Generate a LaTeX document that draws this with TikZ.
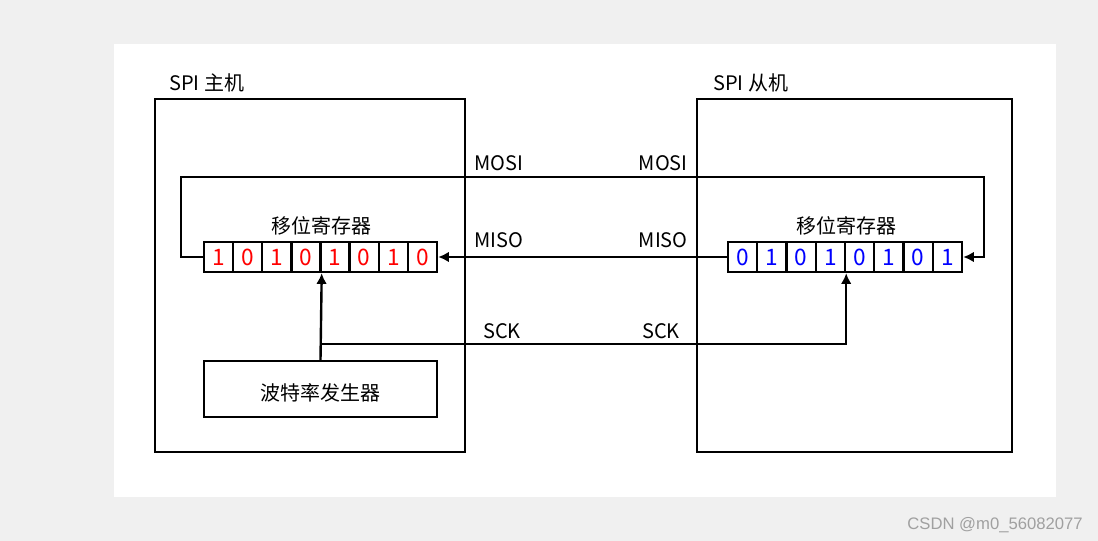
\documentclass[tikz,border=0pt]{standalone}
\usepackage{fontspec}
\setmainfont{Noto Sans CJK SC}
\newfontfamily\wmfont{Liberation Sans}
\usetikzlibrary{arrows.meta}
\definecolor{pagegray}{HTML}{F0F0F0}
\definecolor{bitred}{HTML}{FF0000}
\definecolor{bitblue}{HTML}{0000FF}
\definecolor{wmgray}{HTML}{A0A0A0}
\tikzset{
  unit/.style={draw, line width=1.8pt, inner sep=0pt},
  cell/.style={unit, minimum width=21.85pt, minimum height=22.5pt, font=\fontsize{17}{17}\selectfont},
  lbl/.style={font=\fontsize{15}{15}\selectfont, inner sep=0pt},
  wire/.style={line width=1.8pt},
  arrow/.style={wire, -{Latex[length=8pt,width=8pt]}},
}
\begin{document}
\begin{tikzpicture}[x=0.75pt,y=-0.75pt]
\useasboundingbox (0,0) rectangle (1098,541);
\fill[pagegray] (0,0) rectangle (1098,541);
\fill[white] (114,44) rectangle (1056,497);
% master and slave
\node[unit, minimum width=232.5pt, minimum height=264.75pt] (master) at (310,275.5) {};
\node[unit, minimum width=236.25pt, minimum height=264.75pt] (slave) at (854.5,275.5) {};
\node[lbl, anchor=base west] (mastername) at (169,91) {SPI 主机};
\node[lbl, anchor=base west] (slavename) at (713,91) {SPI 从机};
% shift registers
\foreach \b [count=\i] in {1,0,1,0,1,0,1,0}
  \node[cell, text=bitred] (m\i) at ({204+(\i-0.5)*29.125},257) {\b};
\foreach \b [count=\i] in {0,1,0,1,0,1,0,1}
  \node[cell, text=bitblue, minimum width=21.94pt] (s\i) at ({728+(\i-0.5)*29.25},257) {\b};
\node[lbl, anchor=base, yshift=5.6pt] (mregname) at (m4.north east) {移位寄存器};
\node[lbl, anchor=base, yshift=5.6pt] (sregname) at (s4.north east) {移位寄存器};
% baud rate generator
\node[unit, minimum width=174.75pt, minimum height=42pt] (baud) at (320.5,389) {};
\node[lbl, yshift=-3pt] (baudname) at (baud.center) {波特率发生器};
% wires
\coordinate (mosiL) at (181,177);
\coordinate (mosiR) at (984,177);
\coordinate (sck) at (320.5,344);
\draw[arrow] (m1.west) -| (mosiL) -- (mosiR) |- (s8.east);
\draw[arrow] (s1.west) -- (m8.east);
\draw[arrow] (baud.north) -- (m4.south east);
\draw[arrow] (sck) -| (s4.south east);
\node[lbl, anchor=base west] (mosim) at (474,171) {MOSI};
\node[lbl, anchor=base east] (mosis) at (688,171) {MOSI};
\node[lbl, anchor=base west] (misom) at (474,248) {MISO};
\node[lbl, anchor=base east] (misos) at (688,248) {MISO};
\node[lbl, anchor=base west] (sckm) at (483,338) {SCK};
\node[lbl, anchor=base east] (scks) at (680,338) {SCK};
% watermark
\node[font=\wmfont\fontsize{12.5}{12.5}\selectfont, text=wmgray, anchor=base east, inner sep=0pt] (mark) at (1083,529) {CSDN @m0\_56082077};
\end{tikzpicture}
\end{document}
